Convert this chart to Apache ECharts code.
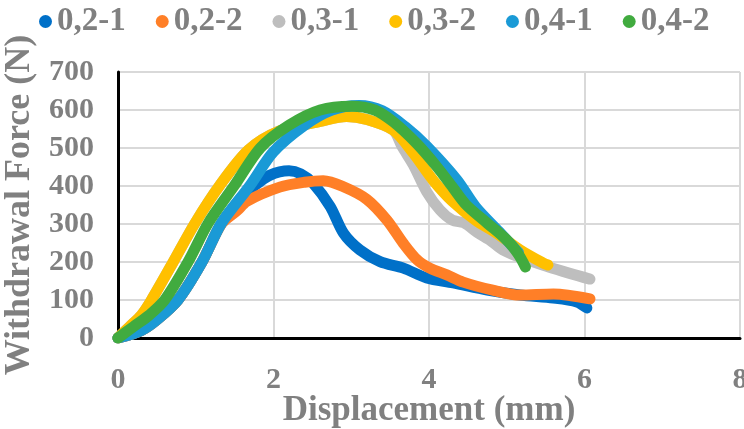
<!DOCTYPE html>
<html>
<head>
<meta charset="utf-8">
<script src="https://cdn.jsdelivr.net/npm/echarts@6/dist/echarts.min.js"></script>
<style>
  html, body { margin: 0; padding: 0; background: #fff; }
  #chart { width: 744px; height: 429px; }
</style>
</head>
<body>
<div id="chart"></div>
<script>
// [displacement mm, force N]
const s21 = [[0,0],[0.3,20],[0.5,48],[0.77,100],[1.08,200],[1.33,302],[1.6,372],[1.74,398],[1.95,428],[2.2,440],[2.35,432],[2.51,407],[2.73,346],[2.9,276],[3.11,232],[3.37,201],[3.67,184],[3.97,158],[4.31,145],[4.75,126],[5.17,113],[5.6,105],[5.9,95],[6.03,79]];
const s22 = [[0,0],[0.3,20],[0.5,48],[0.77,100],[1.08,200],[1.33,300],[1.53,335],[1.66,360],[2.08,397],[2.4,410],[2.64,414],[2.9,398],[3.2,365],[3.46,310],[3.67,249],[3.85,205],[4.01,184],[4.23,166],[4.44,147],[4.82,126],[5.17,113],[5.6,116],[6.07,103]];
const s31 = [[0,0],[0.15,30],[0.3,60],[0.43,100],[0.71,200],[0.99,302],[1.31,402],[1.68,495],[2.08,545],[2.6,570],[2.94,583],[3.2,575],[3.54,547],[3.65,505],[3.8,455],[3.97,385],[4.14,337],[4.3,310],[4.45,303],[4.62,278],[4.8,255],[4.95,232],[5.2,210],[5.52,188],[5.81,170],[6.07,155]];
const s32 = [[0,0],[0.15,30],[0.3,60],[0.43,100],[0.71,200],[0.99,302],[1.31,402],[1.68,495],[2.08,545],[2.6,570],[2.94,583],[3.2,575],[3.54,547],[3.8,486],[4.05,416],[4.3,360],[4.6,310],[4.87,276],[5.17,232],[5.47,197],[5.53,192]];
const s41 = [[0,0],[0.3,20],[0.5,48],[0.77,100],[1.08,200],[1.33,302],[1.7,402],[2.0,490],[2.4,560],[2.75,600],[3.1,612],[3.4,598],[3.7,555],[3.97,505],[4.36,416],[4.6,345],[4.9,280],[5.15,225]];
const s42 = [[0,0],[0.2,30],[0.4,60],[0.6,100],[0.9,200],[1.16,302],[1.5,402],[1.83,500],[2.2,560],[2.6,600],[3.0,610],[3.3,600],[3.54,569],[3.84,512],[4.1,451],[4.31,395],[4.48,350],[4.75,302],[5.0,258],[5.15,220],[5.24,187]];

const names = ["0,2-1", "0,2-2", "0,3-1", "0,3-2", "0,4-1", "0,4-2"];
const colors = ["#0070C8", "#FF7F27", "#BEBEBE", "#FFC000", "#1A9AD6", "#41AB3F"];
const seriesData = [s21, s22, s31, s32, s41, s42];

const grey = "#808080";
const font = "Liberation Serif";

const chart = echarts.init(document.getElementById("chart"));
chart.setOption({
  animation: false,
  color: colors,
  legend: {
    top: 0,
    left: 34,
    itemGap: 30,
    itemWidth: 13,
    itemHeight: 13,
    icon: "circle",
    textStyle: { color: grey, fontFamily: font, fontWeight: "bold", fontSize: 33 },
    data: names
  },
  // keep the plot box fixed, labels may overflow
  grid: { left: 118, right: 4, top: 72, bottom: 91, outerBoundsMode: "none", containLabel: false },
  xAxis: {
    type: "value",
    min: 0, max: 8, interval: 2,
    name: "Displacement (mm)",
    nameLocation: "middle",
    nameGap: 55,
    nameMoveOverlap: false,
    nameTextStyle: { color: grey, fontFamily: font, fontWeight: "bold", fontSize: 35 },
    axisLine: { show: true, lineStyle: { color: "#000", width: 3 } },
    axisTick: { show: false },
    axisLabel: { color: grey, fontFamily: font, fontWeight: "bold", fontSize: 30, margin: 27 },
    splitLine: { show: true, lineStyle: { color: "#D9D9D9", width: 2 } }
  },
  yAxis: {
    type: "value",
    min: 0, max: 700, interval: 100,
    name: "Withdrawal Force (N)",
    nameLocation: "middle",
    nameGap: 80,
    nameMoveOverlap: false,
    nameTextStyle: { color: grey, fontFamily: font, fontWeight: "bold", fontSize: 36 },
    axisLine: { show: true, lineStyle: { color: "#000", width: 3 } },
    axisTick: { show: false },
    axisLabel: { color: grey, fontFamily: font, fontWeight: "bold", fontSize: 30, margin: 24 },
    splitLine: { show: true, lineStyle: { color: "#D9D9D9", width: 2 } }
  },
  series: seriesData.map((d, i) => ({
    name: names[i],
    type: "line",
    data: d,
    smooth: 0.3,
    showSymbol: false,
    lineStyle: { width: 11, cap: "round", join: "round" }
  }))
});
</script>
</body>
</html>
